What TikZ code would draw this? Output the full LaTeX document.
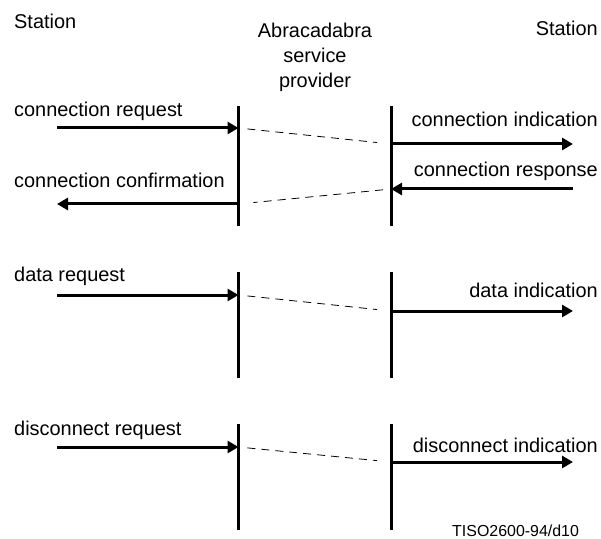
\documentclass[tikz,border=0pt]{standalone}
\usepackage{fontspec}
\setmainfont{Liberation Sans}
\usepackage{tikz}
\usetikzlibrary{arrows.meta}
\tikzset{%
    lbl/.style={inner sep=0pt,font=\fontsize{20}{25.5}\selectfont},
    life/.style={line width=3bp},
    msg/.style={line width=3bp,-{Triangle[length=11bp,width=12bp]}},
    relay/.style={line width=0.8bp,dash pattern=on 8bp off 6bp}
}

\begin{document}
\begin{tikzpicture}[x=1bp,y=-1bp]
        \useasboundingbox (0,0) rectangle (601,539);

        \node[lbl,anchor=base west] (stl) at (14,29) {Station};
        \node[lbl,anchor=base east] (str) at (598,36) {Station};
        \node[lbl,anchor=north,align=center] (sp) at (315,22.5) {Abracadabra\\service\\provider};

        \coordinate (l1t) at (238.5,106);
        \coordinate (l1b) at (238.5,226);
        \coordinate (r1t) at (391,106);
        \coordinate (r1b) at (391,226);
        \coordinate (l2t) at (238.5,272);
        \coordinate (l2b) at (238.5,378);
        \coordinate (r2t) at (391,272);
        \coordinate (r2b) at (391,378);
        \coordinate (l3t) at (238.5,424);
        \coordinate (l3b) at (238.5,530);
        \coordinate (r3t) at (391,424);
        \coordinate (r3b) at (391,530);

        \draw[life] (l1t) -- (l1b);
        \draw[life] (r1t) -- (r1b);
        \draw[life] (l2t) -- (l2b);
        \draw[life] (r2t) -- (r2b);
        \draw[life] (l3t) -- (l3b);
        \draw[life] (r3t) -- (r3b);

        % connection
        \node[lbl,anchor=base west] (creq) at (14,117) {connection request};
        \node[lbl,anchor=base east] (cind) at (598,127) {connection indication};
        \node[lbl,anchor=base east] (crsp) at (598,177) {connection response};
        \node[lbl,anchor=base west] (ccnf) at (14,188) {connection confirmation};

        \coordinate (1a) at (57,128);
        \coordinate (1b) at (238.5,128);
        \coordinate (1c) at (391,144);
        \coordinate (1d) at (573,144);
        \coordinate (1e) at (573,189);
        \coordinate (1f) at (391,189);
        \coordinate (1g) at (238.5,204);
        \coordinate (1h) at (57,204);

        \draw[msg] (1a) -- (1b);
        \draw[relay,shorten <=9bp,shorten >=14bp] (1b) -- (1c);
        \draw[msg] (1c) -- (1d);
        \draw[msg] (1e) -- (1f);
        \draw[relay,shorten <=8bp,shorten >=15bp] (1f) -- (1g);
        \draw[msg] (1g) -- (1h);

        % data
        \node[lbl,anchor=base west] (dreq) at (14,281) {data request};
        \node[lbl,anchor=base east] (dind) at (598,297) {data indication};

        \coordinate (2a) at (57,295);
        \coordinate (2b) at (238.5,295);
        \coordinate (2c) at (391,311);
        \coordinate (2d) at (573,311);

        \draw[msg] (2a) -- (2b);
        \draw[relay,shorten <=9bp,shorten >=14bp] (2b) -- (2c);
        \draw[msg] (2c) -- (2d);

        % disconnect
        \node[lbl,anchor=base west] (xreq) at (14,435) {disconnect request};
        \node[lbl,anchor=base east] (xind) at (598,452) {disconnect indication};

        \coordinate (3a) at (57,447);
        \coordinate (3b) at (238.5,447);
        \coordinate (3c) at (391,462);
        \coordinate (3d) at (573,462);

        \draw[msg] (3a) -- (3b);
        \draw[relay,shorten <=9bp,shorten >=14bp] (3b) -- (3c);
        \draw[msg] (3c) -- (3d);

        \node[inner sep=0pt,anchor=base west,font=\fontsize{16}{18}\selectfont] (ref) at (452,536) {TISO2600-94/d10};
    \end{tikzpicture}
\end{document}
